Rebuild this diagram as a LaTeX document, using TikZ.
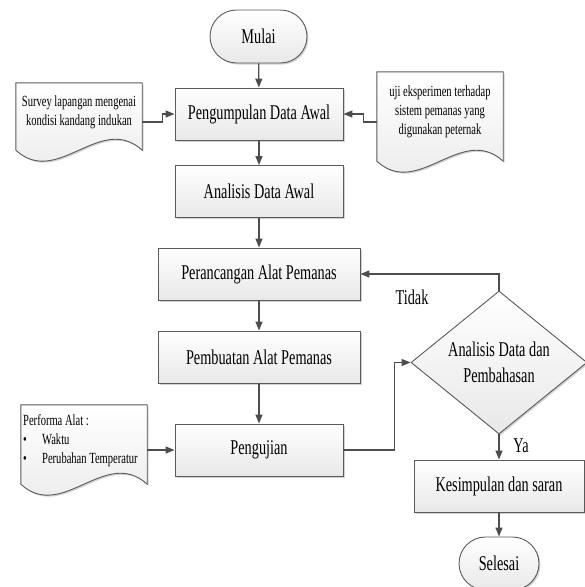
\documentclass[tikz,border=0pt]{standalone}
\usepackage{fontspec}
\setmainfont{Liberation Serif}[FakeStretch=0.68]
\usetikzlibrary{arrows.meta}
\usetikzlibrary{calc}
\usetikzlibrary{shapes.geometric}
\usetikzlibrary{shapes.misc}
\usetikzlibrary{shadows}
\definecolor{lineclr}{HTML}{4D4D4D}
\definecolor{boxclr}{HTML}{5A5A5A}
\tikzset{
	boxfill/.style={top color=white, bottom color=black!9,
		drop shadow={shadow xshift=1.5pt, shadow yshift=-1.5pt, fill=black!35, opacity=0.5}},
	process/.style={rectangle, draw=boxclr, line width=0.9pt, boxfill, minimum width=168pt,
		minimum height=52pt, inner sep=2pt, font=\fontsize{21}{26}\selectfont, align=center},
	%	wide box for the two middle steps
	wideproc/.style={process, minimum width=202pt},
	terminal/.style={process, rounded rectangle, minimum width=101pt, minimum height=53pt},
	decision/.style={process, diamond, aspect=1.23, inner sep=1pt, minimum width=176pt, minimum height=143pt},
	docbox/.style={rectangle, minimum width=126pt, inner sep=0pt},
	doctext/.style={font=\fontsize{15.5}{19}\selectfont, align=center, inner sep=0pt},
	lbl/.style={font=\fontsize{21}{26}\selectfont, inner sep=0pt},
	docline/.style={draw=boxclr, line width=0.9pt, boxfill},
	edge/.style={draw=lineclr, line width=1.3pt, -{Triangle[length=9pt,width=7pt]}}
}
% outline of a document shape round a named node
\newcommand{\docwave}[1]{%
	\draw[docline] (#1.north west) -- (#1.north east) -- ([yshift=11pt]#1.south east)
	.. controls ($([yshift=11pt]#1.south east)!0.33!([yshift=11pt]#1.south west)+(0,38pt)$)
	and ($([yshift=11pt]#1.south east)!0.67!([yshift=11pt]#1.south west)+(0,-38pt)$)
	.. ([yshift=11pt]#1.south west) -- cycle;}

\begin{document}
\begin{tikzpicture}[x=1pt, y=-1pt]
	\useasboundingbox (0, 0) rectangle (585, 587);
	
	\node[terminal] (mulai) at (258.5, 36.5) {Mulai};
	\node[process] (kumpul) at (259, 114) {Pengumpulan Data Awal};
	\node[process] (analisa) at (259, 191.5) {Analisis Data Awal};
	\node[wideproc] (rancang) at (259, 274) {Perancangan Alat Pemanas};
	\node[wideproc] (buat) at (259, 357) {Pembuatan Alat Pemanas};
	\node[process] (uji) at (259, 450) {Pengujian};
	\node[decision] (bahas) at (499, 362.5) {Analisis Data dan\\Pembahasan};
	\node[process, minimum width=170pt] (simpul) at (499, 486) {Kesimpulan dan saran};
	\node[terminal, minimum width=84pt] (selesai) at (499, 563.5) {Selesai};
	
	% document shapes
	\node[docbox, minimum height=78pt] (survey) at (79, 122) {};
	\docwave{survey}
	\node[doctext] (surveytxt) at ([yshift=10pt]survey.center) {Survey lapangan mengenai\\kondisi kandang indukan};
	
	\node[docbox, minimum height=100pt] (eksp) at (440, 122) {};
	\docwave{eksp}
	\node[doctext] (eksptxt) at ([yshift=10.5pt]eksp.center) {uji eksperimen terhadap\\sistem pemanas yang\\digunakan peternak};
	
	\node[docbox, minimum height=90pt] (performa) at (84, 450) {};
	\docwave{performa}
	\node[doctext, align=left, anchor=west] (performatxt) at (23, 441) {Performa Alat :\\
		\makebox[19pt][l]{\textbullet}Waktu\\
		\makebox[19pt][l]{\textbullet}Perubahan Temperatur};
	
	\draw[edge] (mulai) -- (kumpul);
	\draw[edge] (kumpul) -- (analisa);
	\draw[edge] (analisa) -- (rancang);
	\draw[edge] (rancang) -- (buat);
	\draw[edge] (buat) -- (uji);
	\draw[edge] (survey.east) -- ++(20, 0) |- (kumpul.west);
	\draw[edge] (eksp.west) -- ++(-13, 0) |- (kumpul.east);
	\draw[edge] (performa.east) -- (uji.west);
	\draw[edge] (uji.east) -- ++(51, 0) |- (bahas.west);
	\draw[edge] (bahas.north) |- (rancang.east);
	\draw[edge] (bahas.south) -- (simpul.north);
	\draw[edge] (simpul.south) -- (selesai.north);
	
	\node[lbl] (tidak) at (412, 297) {Tidak};
	\node[lbl] (ya) at (521, 446) {Ya};
\end{tikzpicture}
\end{document}
